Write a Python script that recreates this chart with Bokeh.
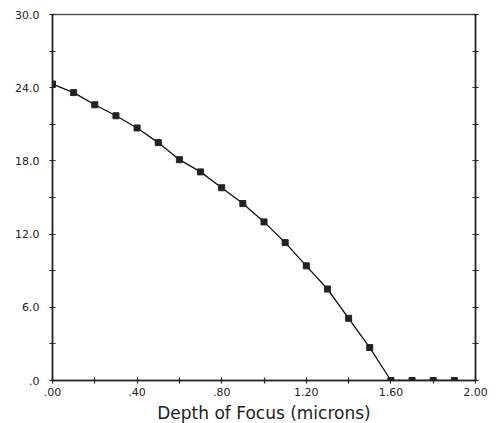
from bokeh.plotting import figure
from bokeh.models import Range1d, LinearAxis, FixedTicker, ColumnDataSource
from bokeh.embed import file_html
from bokeh.resources import INLINE

# ---- data ----
depth = [0.0, 0.1, 0.2, 0.3, 0.4, 0.5, 0.6, 0.7, 0.8, 0.9,
         1.0, 1.1, 1.2, 1.3, 1.4, 1.5, 1.6, 1.7, 1.8, 1.9]
values = [24.3, 23.6, 22.6, 21.7, 20.7, 19.5, 18.1, 17.1, 15.8, 14.5,
          13.0, 11.3, 9.4, 7.5, 5.1, 2.7, 0.0, 0.0, 0.0, 0.0]

x_ticks = [0.0, 0.4, 0.8, 1.2, 1.6, 2.0]
x_minor = [0.2, 0.6, 1.0, 1.4, 1.8]
x_tick_labels = [".00", ".40", ".80", "1.20", "1.60", "2.00"]
y_ticks = [0, 6, 12, 18, 24, 30]
y_minor = [3, 9, 15, 21, 27]
y_tick_labels = [".0", "6.0", "12.0", "18.0", "24.0", "30.0"]
x_title = "Depth of Focus (microns)"

FONT = "DejaVu Sans"
TXT = "#222222"
AX = "#222222"

p = figure(frame_width=423, frame_height=366,
           min_border_left=52, min_border_top=14,
           min_border_right=15, min_border_bottom=40,
           x_range=Range1d(0, 2.0), y_range=Range1d(0, 30),
           output_backend="svg", toolbar_location=None)
p.xgrid.visible = False
p.ygrid.visible = False
p.outline_line_color = "#555555"
p.outline_line_width = 1.5
p.background_fill_color = "white"
p.border_fill_color = "white"

def style_axis(ax, ticks, minor, labels=None):
    ax.ticker = FixedTicker(ticks=ticks, minor_ticks=minor)
    if labels is None:
        ax.major_label_overrides = {t: "" for t in ticks}
        ax.major_label_text_font_size = "0px"
    else:
        ax.major_label_overrides = {t: s for t, s in zip(ticks, labels)}
        ax.major_label_text_font = FONT
        ax.major_label_text_font_size = "11px"
        ax.major_label_text_color = TXT
    ax.major_tick_in = 3
    ax.major_tick_out = 3
    ax.minor_tick_in = 3
    ax.minor_tick_out = 3
    ax.axis_line_color = AX
    ax.axis_line_width = 1.5
    ax.major_tick_line_color = AX
    ax.minor_tick_line_color = AX
    ax.major_tick_line_width = 1.2
    ax.minor_tick_line_width = 1.2

xa = p.xaxis[0]
style_axis(xa, x_ticks, x_minor, x_tick_labels)
xa.major_label_standoff = 4
xa.axis_label = x_title
xa.axis_label_text_font = FONT
xa.axis_label_text_font_size = "17px"
xa.axis_label_text_font_style = "normal"
xa.axis_label_text_color = TXT
xa.axis_label_standoff = 4

ya = p.yaxis[0]
style_axis(ya, y_ticks, y_minor, y_tick_labels)
ya.major_label_standoff = 10
ya.major_label_text_align = "center"

right = LinearAxis()
style_axis(right, y_ticks, y_minor)
p.add_layout(right, "right")

src = ColumnDataSource(dict(x=depth, y=values))
p.line("x", "y", source=src, line_color="#111111", line_width=1.3)
p.scatter("x", "y", source=src, marker="square", size=6,
          fill_color="#222222", line_color="#222222")

open("out.html", "w").write(file_html(p, INLINE))
